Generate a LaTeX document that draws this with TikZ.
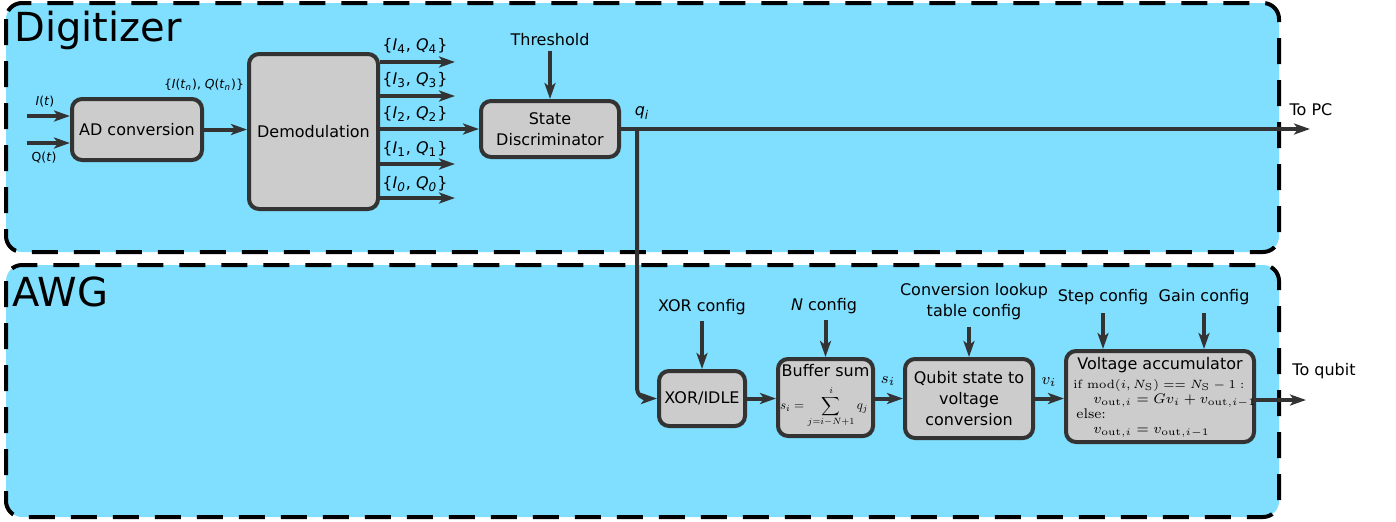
\documentclass[tikz,border=0pt]{standalone}
\usepackage{amsmath}
\usepackage{graphicx}
\usepackage[no-math]{fontspec}
\setmainfont{DejaVu Sans}
\usetikzlibrary{arrows.meta}

\definecolor{panelblue}{RGB}{128,223,255}
\definecolor{boxgray}{RGB}{204,204,204}
\definecolor{linegray}{RGB}{51,51,51}

\newcommand{\iqpair}[1]{\{\textit{I}\textsubscript{#1}, \textit{Q}\textsubscript{#1}\}}

\tikzset{
	panel/.style={draw=black,fill=panelblue,line width=2pt,dash pattern=on 13pt off 8pt,rounded corners=8pt},
	block/.style={draw=linegray,fill=boxgray,line width=2pt,rounded corners=5pt,inner sep=0pt,align=center,font=\fontsize{8}{10.5}\selectfont},
	sig/.style={draw=linegray,line width=2pt,-{Stealth[length=8pt,width=5.5pt,inset=2pt]}},
	lbl/.style={inner sep=0pt,align=center,font=\fontsize{8}{10.5}\selectfont},
	smalllbl/.style={inner sep=0pt,font=\fontsize{6.2}{7}\selectfont},
	mathlbl/.style={inner sep=0pt,anchor=base west,font=\fontsize{6.2}{7}\selectfont},
	paneltitle/.style={inner sep=0pt,anchor=base west,font=\fontsize{20}{22}\selectfont}
}

\begin{document}
\begin{tikzpicture}[x=0.5pt,y=-0.5pt]
	\useasboundingbox (0,0) rectangle (1396,521);
	% panels
	\draw[panel] (6,3) rectangle (1279,252);
	\draw[panel] (6,265) rectangle (1279,517);
	\node[paneltitle] (digtitle) at (14,41) {Digitizer};
	\node[paneltitle] (awgtitle) at (12,306) {AWG};

	% digitizer blocks
	\node[block,minimum width=65pt,minimum height=30.5pt] (ad) at (137,129.5) {AD conversion};
	\node[block,minimum width=64.5pt,minimum height=77.5pt] (demod) at (313.5,131.5) {Demodulation};
	\node[block,minimum width=69pt,minimum height=28pt] (disc) at (550,129) {State\\Discriminator};

	\coordinate (iin) at (27,116);
	\coordinate (qin) at (27,143);
	\node[smalllbl] (ilbl) at (45,102) {\textit{I}(\textit{t})};
	\node[smalllbl] (qlbl) at (44,158) {Q(\textit{t})};
	\draw[sig] (iin) -- (iin -| ad.west);
	\draw[sig] (qin) -- (qin -| ad.west);

	\node[smalllbl] (adlbl) at (204,85) {\{\textit{I}(\textit{t}\textsubscript{\textit{n}}), \textit{Q}(\textit{t}\textsubscript{\textit{n}})\}};
	\draw[sig] (ad.east) -- (ad.east -| demod.west);

	% demodulated outputs
	\coordinate (o4) at (455,62);
	\coordinate (o3) at (455,96);
	\coordinate (o1) at (455,164);
	\coordinate (o0) at (455,198);
	\node[lbl] (l4) at (415,46) {\iqpair{4}};
	\node[lbl] (l3) at (415,80) {\iqpair{3}};
	\node[lbl] (l2) at (415,114) {\iqpair{2}};
	\node[lbl] (l1) at (415,149) {\iqpair{1}};
	\node[lbl] (l0) at (415,184) {\iqpair{\textit{0}}};
	\draw[sig] (o4 -| demod.east) -- (o4);
	\draw[sig] (o3 -| demod.east) -- (o3);
	\draw[sig] (disc.west -| demod.east) -- (disc.west);
	\draw[sig] (o1 -| demod.east) -- (o1);
	\draw[sig] (o0 -| demod.east) -- (o0);

	\node[lbl] (thr) at (550,40) {Threshold};
	\draw[sig,shorten <=2pt] (thr.south) -- (disc.north);

	\coordinate (pc) at (1310,129);
	\coordinate (split) at (637,129);
	\node[lbl] (qlabel) at (642,113) {\textit{q}\textsubscript{\textit{i}}};
	\node[lbl] (pclbl) at (1311,110) {To PC};
	\draw[sig] (disc.east) -- (pc);

	% AWG blocks
	\node[block,minimum width=43pt,minimum height=27.5pt] (xor) at (702,398.5) {XOR/IDLE};
	\node[block,minimum width=47.5pt,minimum height=38.5pt] (buf) at (825.5,397.5) {};
	\node[block,minimum width=64pt,minimum height=39.5pt] (conv) at (969,398.5) {Qubit state to\\voltage\\conversion};
	\node[block,minimum width=94pt,minimum height=45.5pt] (acc) at (1160,396.5) {};

	\node[lbl] (buftitle) at (825.5,371) {Buffer sum};
	\node[inner sep=0pt] (bufsum) at (824,407) {\resizebox{44pt}{!}{$\displaystyle s_i=\sum_{j=i-N+1}^{i}q_j$}};

	\node[lbl] (acctitle) at (1160,365) {Voltage accumulator};
	\node[mathlbl] (accif) at (1073,388) {$\mathrm{if}\ \mathrm{mod}(i,N_\mathrm{S})==N_\mathrm{S}-1:$};
	\node[mathlbl,font=\fontsize{7.2}{9}\selectfont] (accthen) at (1093,403) {$v_{\mathrm{out},i}=Gv_i+v_{\mathrm{out},i-1}$};
	\node[mathlbl,font=\fontsize{7.2}{9}\selectfont] (accelse) at (1076,418) {$\mathrm{else{:}}$};
	\node[mathlbl,font=\fontsize{7.2}{9}\selectfont] (acchold) at (1093,433) {$v_{\mathrm{out},i}=v_{\mathrm{out},i-1}$};

	\draw[sig,rounded corners=5pt] (split) |- (xor.west);

	\node[lbl] (xorcfg) at (702,307) {XOR config};
	\node[lbl] (ncfg) at (824,306) {\textit{N} config};
	\node[lbl] (lutcfg) at (974,302) {Conversion lookup\\table config};
	\node[lbl] (stepcfg) at (1103,297) {Step config};
	\node[lbl] (gaincfg) at (1204,297) {Gain config};
	\draw[sig,shorten <=3pt] (xorcfg.south) -- (xor.north);
	\draw[sig,shorten <=3pt] (ncfg.south -| buf.north) -- (buf.north);
	\draw[sig,shorten <=3pt] (lutcfg.south -| conv.north) -- (conv.north);
	\draw[sig,shorten <=4pt] (stepcfg.south) -- (stepcfg.south |- acc.north);
	\draw[sig,shorten <=4pt] (gaincfg.south) -- (gaincfg.south |- acc.north);

	\draw[sig] (xor.east) -- (xor.east -| buf.west);
	\node[inner sep=0pt,font=\fontsize{8}{9}\selectfont] (slbl) at (888,381) {$s_i$};
	\draw[sig] (buf.east |- conv.west) -- (conv.west);
	\node[inner sep=0pt,font=\fontsize{8}{9}\selectfont] (vlbl) at (1049,382) {$v_i$};
	\draw[sig] (conv.east) -- (conv.east -| acc.west);

	\coordinate (qubit) at (1306,400);
	\node[lbl] (qubitlbl) at (1324,371) {To qubit};
	\draw[sig] (acc.east |- qubit) -- (qubit);
\end{tikzpicture}
\end{document}
